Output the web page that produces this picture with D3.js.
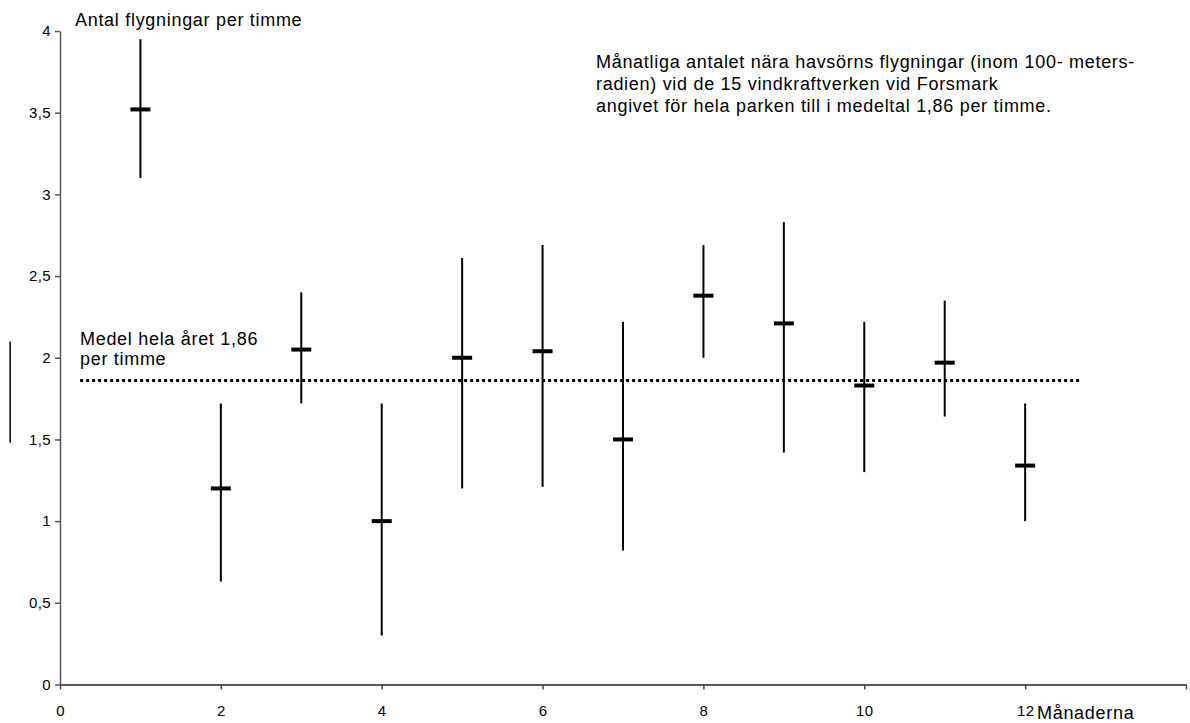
<!DOCTYPE html>
<html>
<head>
<meta charset="utf-8">
<script src="https://cdn.jsdelivr.net/npm/d3@7"></script>
<style>
  body { margin: 0; background: #fff; }
  svg text { font-family: "Liberation Sans", Arial, sans-serif; fill: #000; }
  .lbl { font-size: 18px; letter-spacing: 0.7px; }
</style>
</head>
<body>
<div id="chart"></div>
<script>
// Monthly data: mean and error range (flights per hour)
const months = [1, 2, 3, 4, 5, 6, 7, 8, 9, 10, 11, 12];
const means  = [3.52, 1.20, 2.05, 1.00, 2.00, 2.04, 1.50, 2.38, 2.21, 1.83, 1.97, 1.34];
const highs  = [3.95, 1.72, 2.40, 1.72, 2.61, 2.69, 2.22, 2.69, 2.83, 2.22, 2.35, 1.72];
const lows   = [3.10, 0.63, 1.72, 0.30, 1.20, 1.21, 0.82, 2.00, 1.42, 1.30, 1.64, 1.00];
const yearMean = 1.86;
const meanLineFrom = 0.25, meanLineTo = 12.69;
const yTicks = [0, 0.5, 1, 1.5, 2, 2.5, 3, 3.5, 4];
const xTicks = [0, 2, 4, 6, 8, 10, 12, 14];
// stray vertical mark at the far left of the original
const strayX = -0.62, strayRange = [1.48, 2.10];

const W = 1190, H = 723;
const svg = d3.select("#chart").append("svg")
    .attr("width", W)
    .attr("height", H);

// Scales
const x = d3.scaleLinear().domain([0, 14]).range([60, 1186]);
const y = d3.scaleLinear().domain([0, 4]).range([684.5, 31]);

// Y axis
const yAxis = svg.append("g")
    .attr("transform", `translate(${x(0)},0)`)
    .call(d3.axisLeft(y).tickValues(yTicks).tickSize(5).tickSizeOuter(0)
        .tickFormat(d => String(d).replace(".", ",")));
yAxis.attr("font-size", null).attr("font-family", null);
yAxis.select(".domain").attr("stroke", "#555").attr("stroke-width", 1.5);
yAxis.selectAll(".tick line").attr("stroke", "#555").attr("stroke-width", 1.5);
yAxis.selectAll("text")
    .style("font-size", "15px")
    .style("letter-spacing", "0.4px")
    .attr("dx", "-1").attr("fill", "#000");

// X axis
const xAxis = svg.append("g")
    .attr("transform", `translate(0,${y(0)})`)
    .call(d3.axisBottom(x).tickValues(xTicks).tickSize(5).tickSizeOuter(0)
        .tickFormat(d => d === 14 ? "" : d));
xAxis.attr("font-size", null).attr("font-family", null);
xAxis.select(".domain").attr("stroke", "#222").attr("stroke-width", 1.5);
xAxis.selectAll(".tick line").attr("stroke", "#444").attr("stroke-width", 1.5);
xAxis.selectAll("text")
    .style("font-size", "15px")
    .style("letter-spacing", "0.4px")
    .attr("dy", "1.55em").attr("fill", "#000");

// Year mean dotted line
svg.append("line")
    .attr("x1", x(meanLineFrom)).attr("x2", x(meanLineTo))
    .attr("y1", y(yearMean)).attr("y2", y(yearMean))
    .attr("stroke", "#000")
    .attr("stroke-width", 3)
    .attr("stroke-dasharray", "3,3");

const data = months.map((m, i) => ({ m, mean: means[i], hi: highs[i], lo: lows[i] }));

// Error bars
svg.selectAll(".err")
    .data(data)
    .enter()
    .append("line")
    .attr("class", "err")
    .attr("x1", d => x(d.m)).attr("x2", d => x(d.m))
    .attr("y1", d => y(d.hi)).attr("y2", d => y(d.lo))
    .attr("stroke", "#000")
    .attr("stroke-width", 2);

// Mean markers
svg.selectAll(".mean")
    .data(data)
    .enter()
    .append("line")
    .attr("class", "mean")
    .attr("x1", d => x(d.m) - 10).attr("x2", d => x(d.m) + 10)
    .attr("y1", d => y(d.mean)).attr("y2", d => y(d.mean))
    .attr("stroke", "#000")
    .attr("stroke-width", 4);

// Stray mark
svg.append("line")
    .attr("x1", x(strayX)).attr("x2", x(strayX))
    .attr("y1", y(strayRange[1])).attr("y2", y(strayRange[0]))
    .attr("stroke", "#000")
    .attr("stroke-width", 1.5);

// Texts
svg.append("text")
    .attr("class", "lbl")
    .attr("x", 75).attr("y", 26)
    .text("Antal flygningar per timme");

svg.append("text")
    .attr("class", "lbl")
    .attr("x", 1037).attr("y", 719)
    .text("Månaderna");

const medel = svg.append("text").attr("class", "lbl").attr("x", 80).attr("y", 345);
medel.append("tspan").attr("x", 80).text("Medel hela året 1,86");
medel.append("tspan").attr("x", 80).attr("dy", 20).text("per timme");

const note = [
    "Månatliga antalet nära havsörns flygningar (inom 100- meters-",
    "radien) vid de 15 vindkraftverken vid Forsmark",
    "angivet för hela parken till i medeltal 1,86 per timme."
];
svg.append("text")
    .attr("class", "lbl")
    .attr("x", 596).attr("y", 68)
    .selectAll("tspan")
    .data(note)
    .enter()
    .append("tspan")
    .attr("x", 596)
    .attr("dy", (d, i) => i === 0 ? 0 : 22)
    .text(d => d);
</script>
</body>
</html>
